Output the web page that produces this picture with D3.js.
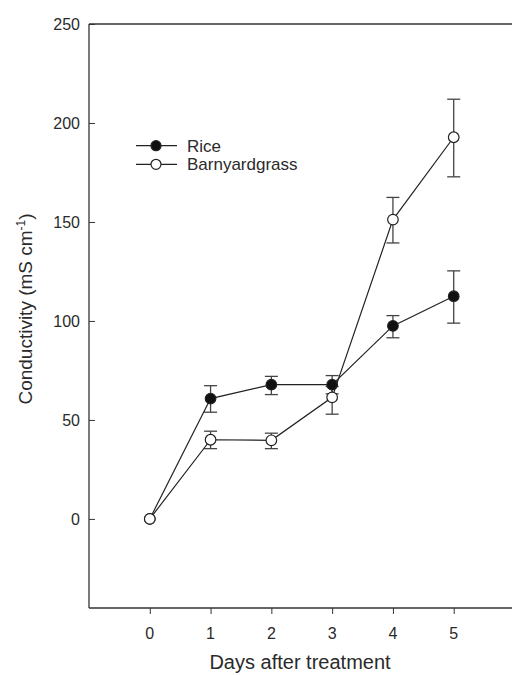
<!DOCTYPE html>
<head>
	<meta charset="UTF-8">
	<script src="https://d3js.org/d3.v7.min.js"></script>
	<style>
		body { margin: 0; background: #fff; }
		text { font-family: "Liberation Sans", Arial, sans-serif; fill: #2a2a2a; }
	</style>
</head>
<body>
	<div id="chart"></div>
<script>
// data
const days = [0, 1, 2, 3, 4, 5];
const rice = [0, 60.8, 67.8, 67.8, 97.5, 112.5];
const riceErrHi = [0, 6.5, 4.2, 4.6, 5.2, 12.8];
const riceErrLo = [0, 6.9, 5.0, 4.6, 6.0, 13.6];
const barn = [0, 40, 39.7, 61.4, 151.2, 192.8];
const barnErrHi = [0, 4.3, 3.6, 5.5, 11.2, 19.2];
const barnErrLo = [0, 4.5, 4.2, 8.5, 11.8, 20];
const yTicks = [0, 50, 100, 150, 200, 250];
const xTicks = [0, 1, 2, 3, 4, 5];

const width = 512, height = 675;
const margin = {left: 89, top: 24, bottom: 608};

const svg = d3.select("#chart").append("svg")
	.attr("width", width)
	.attr("height", height);

const x = d3.scaleLinear().domain([-1, 6]).range([margin.left, 514.5]);
const y = d3.scaleLinear().domain([-45, 250]).range([margin.bottom, margin.top]);

// frame: left, top, bottom (right side runs off the image)
const frame = svg.append("g").attr("stroke", "#333").attr("stroke-width", 1.3).attr("fill", "none");
frame.append("line").attr("x1", x(-1)).attr("x2", x(-1)).attr("y1", y(250)).attr("y2", y(-45));
frame.append("line").attr("x1", x(-1)).attr("x2", width).attr("y1", y(250)).attr("y2", y(250));
frame.append("line").attr("x1", x(-1)).attr("x2", width).attr("y1", y(-45)).attr("y2", y(-45));

// y axis: ticks point inward
const yAxis = svg.append("g")
	.attr("transform", `translate(${x(-1)},0)`)
	.call(d3.axisRight(y).tickValues(yTicks).tickSize(6).tickFormat(""));
yAxis.select(".domain").remove();
yAxis.selectAll("line").attr("stroke", "#333");
svg.append("g").selectAll("text").data(yTicks).join("text")
	.attr("x", 80).attr("y", d => y(d) + 6)
	.attr("text-anchor", "end")
	.attr("font-size", 16)
	.text(d => d);

// x axis: ticks point outward
const xAxis = svg.append("g")
	.attr("transform", `translate(0,${y(-45)})`)
	.call(d3.axisBottom(x).tickValues(xTicks).tickSize(6).tickFormat(""));
xAxis.select(".domain").remove();
xAxis.selectAll("line").attr("stroke", "#333");
svg.append("g").selectAll("text").data(xTicks).join("text")
	.attr("x", d => x(d)).attr("y", 639)
	.attr("text-anchor", "middle")
	.attr("font-size", 16)
	.text(d => d);

// axis titles
svg.append("text")
	.attr("x", 300).attr("y", 669)
	.attr("text-anchor", "middle")
	.attr("font-size", 20)
	.text("Days after treatment");

const yt = svg.append("text")
	.attr("transform", `translate(32,309) rotate(-90)`)
	.attr("text-anchor", "middle")
	.attr("font-size", 19);
yt.append("tspan").text("Conductivity (mS cm");
yt.append("tspan").attr("dy", -7).attr("font-size", 12).text("-1");
yt.append("tspan").attr("dy", 7).text(")");

const series = [
	{name: "Rice", vals: rice, hi: riceErrHi, lo: riceErrLo, fill: "#111"},
	{name: "Barnyardgrass", vals: barn, hi: barnErrHi, lo: barnErrLo, fill: "#fff"}
];

const line = d3.line().x((d, i) => x(days[i])).y(d => y(d));
const capW = 6.5;

series.forEach(s => {
	const g = svg.append("g");
	// error bars
	const eb = g.append("g").attr("stroke", "#444").attr("stroke-width", 1.3);
	days.forEach((d, i) => {
		if (s.hi[i] === 0 && s.lo[i] === 0) return;
		const top = y(s.vals[i] + s.hi[i]), bot = y(s.vals[i] - s.lo[i]);
		eb.append("line").attr("x1", x(d)).attr("x2", x(d)).attr("y1", top).attr("y2", bot);
		eb.append("line").attr("x1", x(d) - capW).attr("x2", x(d) + capW).attr("y1", top).attr("y2", top);
		eb.append("line").attr("x1", x(d) - capW).attr("x2", x(d) + capW).attr("y1", bot).attr("y2", bot);
	});
	s.g = g;
});

series.forEach(s => {
	s.g.append("path")
		.attr("d", line(s.vals))
		.attr("fill", "none")
		.attr("stroke", "#222")
		.attr("stroke-width", 1.2);
});

series.forEach(s => {
	svg.append("g").selectAll("circle").data(s.vals).join("circle")
		.attr("cx", (d, i) => x(days[i]))
		.attr("cy", d => y(d))
		.attr("r", 5.3)
		.attr("fill", s.fill)
		.attr("stroke", "#222")
		.attr("stroke-width", 1.2);
});

// legend
const leg = svg.append("g");
series.forEach((s, i) => {
	const ly = 145.7 + i * 18.6;
	leg.append("line").attr("x1", 136).attr("x2", 177).attr("y1", ly).attr("y2", ly)
		.attr("stroke", "#222").attr("stroke-width", 1.2);
	leg.append("circle").attr("cx", 156).attr("cy", ly).attr("r", 5)
		.attr("fill", s.fill).attr("stroke", "#222").attr("stroke-width", 1.2);
	leg.append("text").attr("x", 187).attr("y", ly + 6)
		.attr("font-size", 17).text(s.name);
});
</script>
</body>
</html>
